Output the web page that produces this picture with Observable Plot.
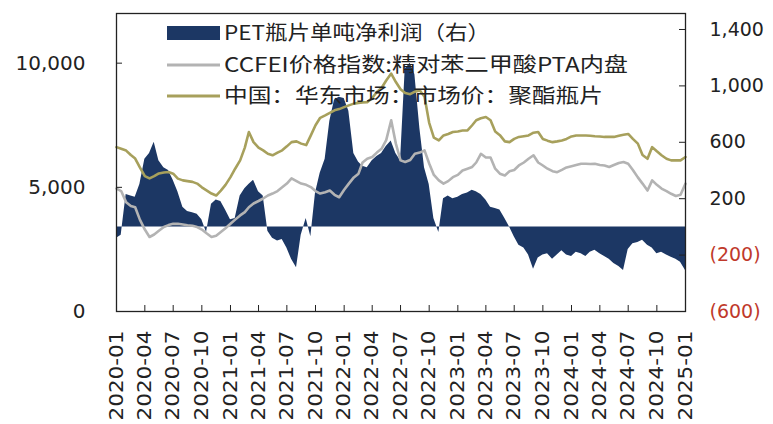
<!DOCTYPE html>
<html>
<head>
<meta charset="utf-8">
<script src="https://cdn.jsdelivr.net/npm/d3@7"></script>
<script src="https://cdn.jsdelivr.net/npm/@observablehq/plot@0.6"></script>
<style>
  html, body { margin: 0; padding: 0; background: #fff; }
  #chart svg { display: block; }
</style>
</head>
<body>
<div id="chart"></div>
<script>
// Semi-monthly samples (1st and 16th of each month), 2020-01-01 .. 2025-01-01
const startDate = "2020-01-01";

// 中国：华东市场：市场价：聚酯瓶片 (left axis, RMB/t)
const petChipPrice = [
  6620, 6550, 6480, 6300, 6160, 5800, 5450, 5360, 5450, 5560,
  5600, 5620, 5550, 5350, 5280, 5250, 5220, 5150, 5000, 4880,
  4750, 4670, 4870, 5100, 5410, 5750, 6085, 6600, 7230, 6820,
  6600, 6490, 6350, 6290, 6400, 6490, 6650, 6820, 6850, 6760,
  6700, 7090, 7500, 7800, 7900, 8000, 8100, 8150, 8230, 8300,
  8370, 8400, 8420, 8430, 8600, 8840, 9000, 9300, 9580, 9240,
  8950, 8800, 8750, 8850, 8900, 8650, 7600, 7000, 6890, 7090,
  7150, 7230, 7250, 7290, 7290, 7500, 7700, 7780, 7830, 7700,
  7250, 7100, 6850, 6820, 6950, 7030, 7060, 7090, 7200, 7230,
  6950, 6880, 6820, 6850, 6890, 6950, 7050, 7090, 7090, 7090,
  7080, 7060, 7050, 7030, 7030, 7030, 7080, 7120, 7150, 6950,
  6760, 6300, 6150, 6620, 6450, 6290, 6150, 6085, 6085, 6085,
  6220
];

// CCFEI价格指数:精对苯二甲酸PTA内盘 (left axis, RMB/t)
const ptaIndex = [
  4945, 4850, 4400, 4250, 4200, 3700, 3300, 3000, 3100, 3250,
  3400, 3480, 3530, 3530, 3500, 3470, 3450, 3400, 3300, 3150,
  3000, 3050, 3200, 3350, 3530, 3700, 3870, 4000, 4200, 4350,
  4450, 4550, 4670, 4750, 4850, 5000, 5150, 5360, 5250, 5150,
  5100, 5010, 4850, 4750, 4800, 4870, 4700, 4600, 4900, 5150,
  5400, 5550, 6000, 6150, 6220, 6400, 6550, 6900, 7700, 6760,
  6085, 6020, 6100, 6350, 6400, 6490, 5960, 5500, 5280, 5150,
  5250, 5410, 5500, 5680, 5750, 5820, 6000, 6350, 6200, 6200,
  5750, 5550, 5480, 5650, 5700, 5880, 6000, 6150, 6290, 6000,
  5880, 5750, 5650, 5610, 5700, 5800, 5850, 5900, 5950, 5950,
  5940, 5950, 5900, 5880, 5820, 5900, 5980, 6020, 5950, 5700,
  5400, 5150, 4870, 5280, 5100, 4950, 4850, 4740, 4650, 4700,
  5150
];

// PET瓶片单吨净利润（右） (right axis, RMB/t)
const petProfit = [
   -80,  -60,  230,  220,  210,  300,  480,  520,  600,  470,
   420,  400,  330,  250,  140,  110,  100,   90,   50,  -40,
   160,  190,  180,  120,   50,   60,  220,  270,  300,  330,
   250,  220,  -30,  -80, -100,  -90, -150, -230, -290,  -60,
    60,  -70,  240,  380,  480,  750,  900,  920,  910,  820,
   520,  460,  430,  420,  470,  500,  520,  570,  610,  520,
   470, 1120, 1160, 1080,  700,  420,  300,   60,  -40,  200,
   220,  200,  210,  230,  240,  260,  250,  230,  190,  140,
   130,  120,   60,    0,  -70, -130, -150, -200, -300, -220,
  -200, -190, -230, -200, -170, -200, -210, -180, -190, -210,
  -180, -165, -190, -210, -230, -260, -280, -310, -160, -120,
  -110,  -95, -130, -150, -190, -180, -200, -215, -230, -250,
  -310
];

const leftTicks = [0, 5000, 10000];
const rightTicks = [1400, 1000, 600, 200, -200, -600];
const xTickDates = d3.utcMonth.every(3).range(new Date("2020-01-01"), new Date("2025-01-02"));

const legendLabels = [
  "PET瓶片单吨净利润（右）",
  "CCFEI价格指数:精对苯二甲酸PTA内盘",
  "中国：华东市场：市场价：聚酯瓶片"
];

const NAVY = "#1c3764";
const GRAY = "#b3b3b3";
const OLIVE = "#a7a05c";

// dates for semi-monthly samples
const dates = d3.range(petProfit.length).map(i => {
  const m = d3.utcMonth.offset(new Date(startDate), Math.floor(i / 2));
  return i % 2 === 0 ? m : d3.utcDay.offset(m, 15);
});

// right-axis values mapped onto the left-axis units
const toLeft = d3.scaleLinear([-600, 1400], [0, 11356]);
const fmtRight = v => {
  const r = Math.round(toLeft.invert(v));
  return r < 0 ? `(${d3.format(",")(-r)})` : d3.format(",")(r);
};

const rows = dates.map((date, i) => ({
  date,
  price: petChipPrice[i],
  pta: ptaIndex[i],
  profit: petProfit[i]
}));

const W = 773, H = 424, ML = 116, MR = 88, MT = 13, MB = 113;
const FW = W - ML - MR, FH = H - MT - MB;
const AXFONT = "'DejaVu Sans', sans-serif";

const chart = Plot.plot({
  width: W,
  height: H,
  marginLeft: ML,
  marginRight: MR,
  marginTop: MT,
  marginBottom: MB,
  style: {fontFamily: AXFONT, fontSize: "20px", color: "#222", background: "#fff"},
  x: {type: "utc", domain: [new Date("2020-01-01"), new Date("2025-01-01")]},
  y: {domain: [0, 12000]},
  marks: [
    Plot.areaY(rows, {x: "date", y1: toLeft(0), y2: d => toLeft(d.profit), fill: NAVY}),
    Plot.lineY(rows, {x: "date", y: "pta", stroke: GRAY, strokeWidth: 2.6}),
    Plot.lineY(rows, {x: "date", y: "price", stroke: OLIVE, strokeWidth: 2.6}),
    Plot.frame({stroke: "#222", strokeWidth: 1.3}),
    // inward tick marks
    Plot.tickY(leftTicks.slice(1), {y: d => d, insetRight: FW - 6, stroke: "#222"}),
    Plot.tickY(rightTicks.slice(0, 5).map(d => toLeft(d)), {y: d => d, insetLeft: FW - 6, stroke: "#222"}),
    Plot.tickX(xTickDates.slice(1), {x: d => d, insetTop: FH - 6, stroke: "#222"}),
    // axes labels
    Plot.axisY(leftTicks, {anchor: "left", tickSize: 0, tickPadding: 31, tickFormat: d3.format(","), fill: "#222", fontSize: 20}),
    Plot.axisY(rightTicks.filter(d => d >= 0).map(d => toLeft(d)), {anchor: "right", tickSize: 0, tickPadding: 24, tickFormat: fmtRight, fill: "#222", fontSize: 19}),
    Plot.axisY(rightTicks.filter(d => d < 0).map(d => toLeft(d)), {anchor: "right", tickSize: 0, tickPadding: 24, tickFormat: fmtRight, fill: "#c0392b", fontSize: 19}),
    Plot.axisX(xTickDates, {anchor: "bottom", tickSize: 0, tickPadding: 19, tickRotate: -90, tickFormat: d3.utcFormat("%Y-%m"), fill: "#222", fontSize: 19})
  ]
});

// stretch the rotated date labels to the reference's length
d3.select(chart).selectAll("g[aria-label='x-axis tick label'] text")
  .attr("textLength", 90)
  .attr("lengthAdjust", "spacingAndGlyphs");

// legend inside the plot (top-left)
const svg = d3.select(chart);
const lg = svg.append("g")
  .attr("font-family", "'Noto Sans CJK SC', sans-serif")
  .attr("font-size", 20)
  .attr("fill", "#222")
  .attr("text-anchor", "start");
const legendY = [33, 65, 96];
const legendEnd = [490, 628, 603];
lg.append("rect").attr("x", 167).attr("y", legendY[0] - 7).attr("width", 53).attr("height", 14).attr("fill", NAVY);
lg.append("line").attr("x1", 167).attr("x2", 220).attr("y1", legendY[1]).attr("y2", legendY[1]).attr("stroke", GRAY).attr("stroke-width", 3);
lg.append("line").attr("x1", 167).attr("x2", 220).attr("y1", legendY[2]).attr("y2", legendY[2]).attr("stroke", OLIVE).attr("stroke-width", 3);
legendLabels.forEach((t, i) => {
  lg.append("text")
    .attr("x", 224)
    .attr("y", legendY[i])
    .attr("dy", "0.35em")
    .attr("text-anchor", "start")
    .attr("textLength", legendEnd[i] - 224)
    .attr("lengthAdjust", "spacingAndGlyphs")
    .text(t);
});

document.getElementById("chart").appendChild(chart);
</script>
</body>
</html>
